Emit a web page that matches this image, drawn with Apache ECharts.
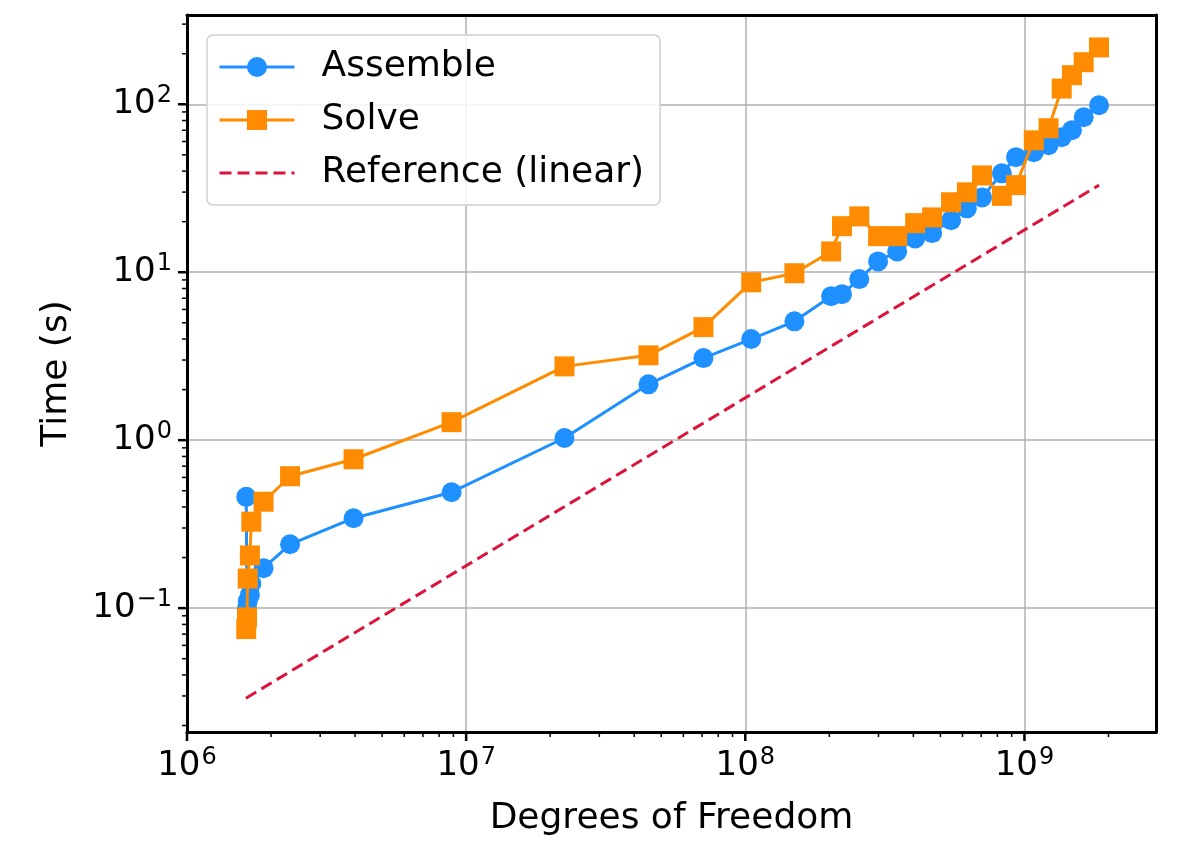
<!DOCTYPE html>
<html>
<head>
<meta charset="utf-8">
<script src="https://cdn.jsdelivr.net/npm/echarts@6/dist/echarts.min.js"></script>
<style>
html,body{margin:0;padding:0;background:#fff;}
#chart{width:1196px;height:847px;}
</style>
</head>
<body>
<div id="chart"></div>
<script>
// ---- data ----
const dofs = [1.63e6, 1.64e6, 1.65e6, 1.68e6, 1.70e6, 1.88e6, 2.34e6, 3.95e6, 8.87e6,
  2.25e7, 4.5e7, 7.08e7, 1.05e8, 1.5e8, 2.03e8, 2.22e8, 2.56e8, 2.99e8, 3.5e8, 4.06e8,
  4.67e8, 5.46e8, 6.22e8, 7.05e8, 8.3e8, 9.33e8, 1.08e9, 1.22e9, 1.36e9, 1.48e9, 1.63e9, 1.85e9];
const assembleTimes = [0.46, 0.10, 0.11, 0.12, 0.14, 0.173, 0.24, 0.343, 0.49,
  1.03, 2.15, 3.08, 4.0, 5.1, 7.2, 7.4, 9.1, 11.6, 13.3, 15.9,
  17.1, 20.4, 24.0, 27.9, 38.8, 48.4, 51.8, 57.0, 63.7, 70, 83.7, 98.6];
const solveTimes = [0.075, 0.088, 0.15, 0.206, 0.327, 0.43, 0.61, 0.77, 1.28,
  2.75, 3.2, 4.71, 8.7, 9.86, 13.3, 18.8, 21.5, 16.4, 16.4, 19.6,
  21.2, 26.1, 29.9, 37.7, 28.5, 33, 61, 72, 124, 149, 178, 218];
const refDofs = [1.626e6, 1.85e9];
const refTimes = [0.0291, 33.0];
const seriesNames = ['Assemble', 'Solve', 'Reference (linear)'];
const xTickExps = [6, 7, 8, 9];
const yTickExps = [-1, 0, 1, 2];
const xRange = [1e6, 2.96e9];
const yRange = [0.0183, 340];

// ---- helpers ----
const FONT = 'DejaVu Sans';
const pair = (xs, ys) => xs.map((x, i) => [x, ys[i]]);
function expLabel(exps) {
  return function (v) {
    const l = Math.log10(v);
    const e = Math.round(l);
    if (Math.abs(l - e) > 1e-6 || exps.indexOf(e) < 0) return '';
    const s = e < 0 ? '\u2212' + (-e) : String(e);
    return '{b|10}{s|' + s + '}';
  };
}
const richLabel = {
  b: { fontFamily: FONT, fontSize: 34, color: '#000', lineHeight: 40 },
  s: { fontFamily: FONT, fontSize: 24, color: '#000', verticalAlign: 'top', lineHeight: 40, padding: [0, 0, 0, 1] }
};
// tick marks (decoration): major at powers of ten, minor at 2..9
function tickValues(lo, hi) {
  const out = [];
  for (let e = Math.floor(Math.log10(lo)); e <= Math.ceil(Math.log10(hi)); e++) {
    for (let m = 1; m <= 9; m++) {
      const v = m * Math.pow(10, e);
      if (v >= lo * 0.9999 && v <= hi * 1.0001) out.push([v, m === 1 ? 1 : 0]);
    }
  }
  return out;
}
const xTicks = tickValues(xRange[0], xRange[1]).map(t => [t[0], yRange[0], t[1]]);
const yTicks = tickValues(yRange[0], yRange[1]).map(t => [xRange[0], t[0], t[1]]);

function tickRender(dir) {
  return function (params, api) {
    const p = api.coord([api.value(0), api.value(1)]);
    const major = api.value(2) === 1;
    const len = major ? 9 : 5;
    const shape = dir === 'x'
      ? { x1: p[0], y1: p[1], x2: p[0], y2: p[1] + len }
      : { x1: p[0], y1: p[1], x2: p[0] - len, y2: p[1] };
    return { type: 'line', shape: shape, style: { stroke: '#000', lineWidth: major ? 2.5 : 1.5 } };
  };
}

const frameAxis = { show: true, lineStyle: { color: '#000', width: 3 } };

const chart = echarts.init(document.getElementById('chart'), null, { renderer: 'canvas' });
chart.setOption({
  animation: false,
  backgroundColor: '#fff',
  grid: { left: 187, right: 40, top: 15, bottom: 115, containLabel: false },
  legend: {
    data: [
      { name: seriesNames[0] },
      { name: seriesNames[1] },
      { name: seriesNames[2], itemStyle: { opacity: 0 } }
    ],
    orient: 'vertical',
    left: 207, top: 35,
    padding: [12, 16, 12, 11],
    itemWidth: 75, itemHeight: 25, itemGap: 13,
    lineStyle: { width: 3 },
    backgroundColor: 'rgba(255,255,255,0.85)',
    borderColor: '#d0d0d0', borderWidth: 1.5, borderRadius: 6,
    textStyle: { fontFamily: FONT, fontSize: 36, color: '#000', lineHeight: 40, padding: [0, 0, 0, 22] }
  },
  xAxis: [{
    type: 'log', logBase: 10, min: xRange[0], max: xRange[1],
    name: 'Degrees of Freedom', nameLocation: 'middle', nameGap: 69,
    nameTextStyle: { fontFamily: FONT, fontSize: 36, color: '#000' },
    axisLine: frameAxis,
    axisTick: { show: false },
    axisLabel: { margin: 14, formatter: expLabel(xTickExps), rich: richLabel, showMinLabel: true, showMaxLabel: true },
    splitLine: { show: true, lineStyle: { color: '#b0b0b0', width: 1.5 } }
  }, {
    type: 'log', logBase: 10, min: xRange[0], max: xRange[1], position: 'top',
    axisLine: frameAxis, axisTick: { show: false }, axisLabel: { show: false }, splitLine: { show: false }
  }],
  yAxis: [{
    type: 'log', logBase: 10, min: yRange[0], max: yRange[1],
    name: 'Time (s)', nameLocation: 'middle', nameGap: 112, nameRotate: 90,
    nameTextStyle: { fontFamily: FONT, fontSize: 36, color: '#000' },
    axisLine: frameAxis,
    axisTick: { show: false },
    axisLabel: { margin: 15, formatter: expLabel(yTickExps), rich: richLabel },
    splitLine: { show: true, lineStyle: { color: '#b0b0b0', width: 1.5 } }
  }, {
    type: 'log', logBase: 10, min: yRange[0], max: yRange[1], position: 'right',
    axisLine: frameAxis, axisTick: { show: false }, axisLabel: { show: false }, splitLine: { show: false }
  }],
  series: [
    {
      name: 'Assemble', type: 'line', data: pair(dofs, assembleTimes),
      symbol: 'circle', symbolSize: 20, z: 3,
      itemStyle: { color: '#1E90FF' },
      lineStyle: { color: '#1E90FF', width: 3 }
    },
    {
      name: 'Solve', type: 'line', data: pair(dofs, solveTimes),
      symbol: 'rect', symbolSize: 20, z: 4,
      itemStyle: { color: '#FF8C00' },
      lineStyle: { color: '#FF8C00', width: 3 }
    },
    {
      name: 'Reference (linear)', type: 'line', data: pair(refDofs, refTimes),
      symbol: 'none', showSymbol: false, z: 2,
      itemStyle: { color: '#DC143C' },
      lineStyle: { color: '#DC143C', width: 3, type: [12, 6] }
    },
    {
      type: 'custom', renderItem: tickRender('x'), data: xTicks, clip: false, silent: true, z: 10,
      encode: { x: 0, y: 1 }
    },
    {
      type: 'custom', renderItem: tickRender('y'), data: yTicks, clip: false, silent: true, z: 10,
      encode: { x: 0, y: 1 }
    }
  ]
});
</script>
</body>
</html>
